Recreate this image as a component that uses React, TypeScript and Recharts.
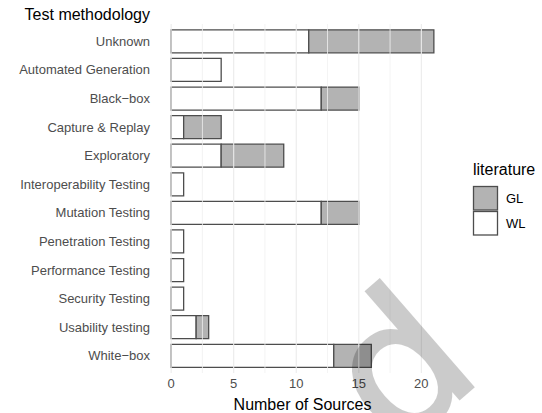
import { Bar, BarChart, Label, ReferenceLine, XAxis, YAxis } from "recharts"

const methods = [
  "Unknown",
  "Automated Generation",
  "Black\u2212box",
  "Capture & Replay",
  "Exploratory",
  "Interoperability Testing",
  "Mutation Testing",
  "Penetration Testing",
  "Performance Testing",
  "Security Testing",
  "Usability testing",
  "White\u2212box",
]
const wlCounts = [11, 4, 12, 1, 4, 1, 12, 1, 1, 1, 2, 13]
const glCounts = [10, 0, 3, 3, 5, 0, 3, 0, 0, 0, 1, 3]
const majorTicks = [0, 5, 10, 15, 20]
const minorTicks = [2.5, 7.5, 12.5, 17.5]
const legendItems = [
  { name: "GL", fill: "#b3b3b3" },
  { name: "WL", fill: "#ffffff" },
]

const font = '"Liberation Sans", Arial, Helvetica, sans-serif'
const edge = "#4d4d4d"

export default function App() {
  const data = methods.map((method, i) => ({ method, WL: wlCounts[i], GL: glCounts[i] }))

  return (
    <div style={{ position: "absolute", left: 0, top: 0, width: 542, height: 413, fontFamily: font, background: "#fff" }}>
      <BarChart
        width={542}
        height={413}
        data={data}
        layout="vertical"
        margin={{ top: 24, right: 95, bottom: 0, left: 0 }}
        barCategoryGap="10%"
      >
        {minorTicks.map((v) => (
          <ReferenceLine key={"mi" + v} x={v} stroke="#f0f0f0" strokeWidth={0.8} />
        ))}
        {majorTicks.map((v) => (
          <ReferenceLine key={"ma" + v} x={v} stroke="#ebebeb" strokeWidth={1.1} />
        ))}
        <XAxis
          type="number"
          domain={[-1.05, 22.05]}
          allowDataOverflow
          ticks={majorTicks}
          tickSize={0}
          tickMargin={6}
          axisLine={false}
          tickLine={false}
          height={40}
          tick={{ fill: "#4d4d4d", fontSize: 13, fontFamily: font }}
        >
          <Label value="Number of Sources" position="insideBottom" offset={3} fill="#000" fontSize={16} fontFamily={font} />
        </XAxis>
        <YAxis
          type="category"
          dataKey="method"
          width={158}
          tickSize={0}
          tickMargin={8}
          axisLine={false}
          tickLine={false}
          interval={0}
          padding={{ top: 3, bottom: 3 }}
          tick={{ fill: "#4d4d4d", fontSize: 13, fontFamily: font }}
        />
        <Bar dataKey="WL" stackId="lit" fill="#ffffff" stroke={edge} strokeWidth={1.3} isAnimationActive={false} />
        <Bar dataKey="GL" stackId="lit" fill="#b3b3b3" stroke={edge} strokeWidth={1.3} isAnimationActive={false} />
      </BarChart>
      <svg width={542} height={413} style={{ position: "absolute", left: 0, top: 0, pointerEvents: "none" }}>
        <text x={150} y={20} textAnchor="end" fontSize={16} fill="#000" fontFamily={font}>
          Test methodology
        </text>
        <text x={473} y={175} fontSize={16} fill="#000" fontFamily={font}>
          literature
        </text>
        {legendItems.map((item, i) => (
          <g key={item.name}>
            <rect x={473.5} y={186.5 + i * 25} width={24} height={23.5} fill={item.fill} stroke={edge} strokeWidth={1.3} />
            <text x={506} y={203 + i * 25} fontSize={13} fill="#000" fontFamily={font}>
              {item.name}
            </text>
          </g>
        ))}
        {/* watermark */}
        <g opacity={0.2}>
          <text
            x={0}
            y={0}
            transform="translate(485 376) rotate(-41)"
            textAnchor="end"
            fontSize={186}
            fill="#000"
            stroke="#000"
            strokeWidth={3.5}
            fontFamily='"DejaVu Sans", sans-serif'
          >
            d
          </text>
        </g>
      </svg>
    </div>
  )
}
